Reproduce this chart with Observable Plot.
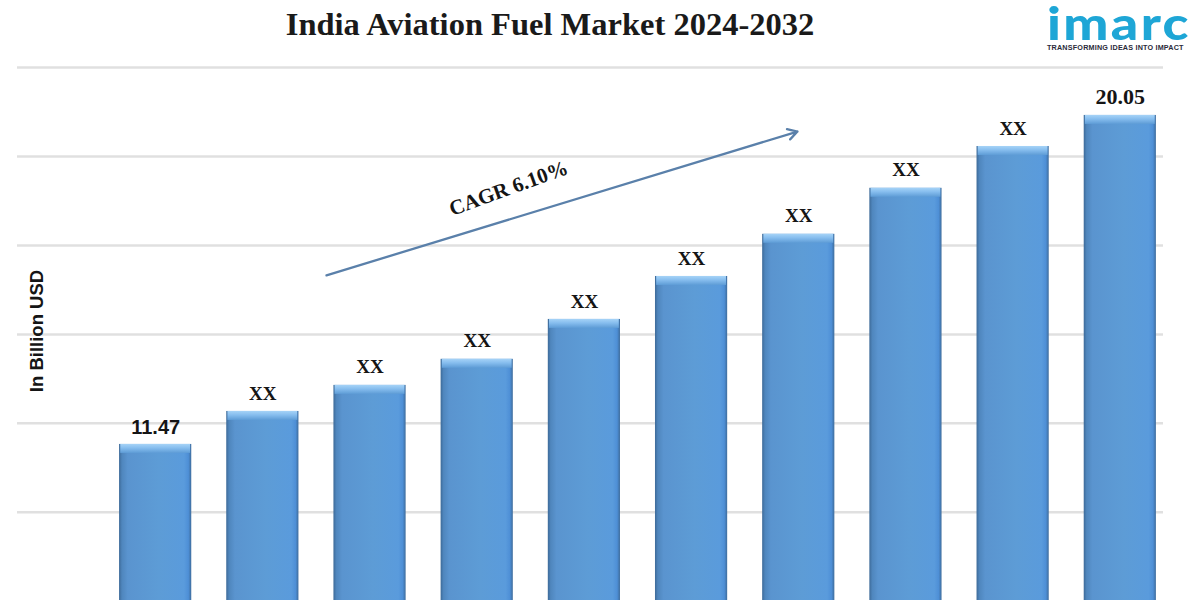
<!DOCTYPE html>
<html>
<head>
<meta charset="utf-8">
<script src="https://cdn.jsdelivr.net/npm/d3@7"></script>
<script src="https://cdn.jsdelivr.net/npm/@observablehq/plot@0.6"></script>
<style>
  html, body { margin: 0; padding: 0; background: #ffffff; }
  #wrap { position: relative; width: 1200px; height: 600px; overflow: hidden; background: #ffffff; }
  #title { position: absolute; left: 0; top: 8px; width: 1100px; text-align: center;
           font-family: "Liberation Serif", serif; font-weight: bold; font-size: 32.5px; color: #1a1a1a; line-height: 1; }
  #brand { position: absolute; left: 1047px; top: 3px; white-space: nowrap;
           font-family: "Lato", sans-serif; font-weight: 900; font-size: 45px; letter-spacing: 2px; color: #1ea6d6; line-height: 0.9;
           transform: scaleX(1.19); transform-origin: 0 0; }
  #tag { position: absolute; left: 1047px; top: 44px; white-space: nowrap;
         font-family: "Liberation Sans", sans-serif; font-weight: bold; font-size: 7.2px; color: #2b2b3a; letter-spacing: 0.2px; line-height: 1; }
  #chart { position: absolute; left: 0; top: 0; }
</style>
</head>
<body>
<div id="wrap">
  <div id="chart"></div>
  <div id="title">India Aviation Fuel Market 2024-2032</div>
  <div id="brand">imarc</div>
  <div id="tag">TRANSFORMING IDEAS INTO IMPACT</div>
</div>
<script>
// ---- data ----
const years  = [2023, 2024, 2025, 2026, 2027, 2028, 2029, 2030, 2031, 2032];
const values = [11.47, 12.33, 13.01, 13.69, 14.73, 15.85, 16.95, 18.15, 19.24, 20.05];
const labels = ["11.47", "XX", "XX", "XX", "XX", "XX", "XX", "XX", "XX", "20.05"];
const gridValues = [9.70, 12.02, 14.34, 16.66, 18.98, 21.30];
const yDomain = [7.40, 21.30];
const xDomain = [2021.711, 2032.403];
const cagrText = "CAGR 6.10%";
const cagrArrow = [{x1: 2024.594, y1: 15.88, x2: 2028.988, y2: 19.63}];
const cagrLabelPos = [{x: 2026.292, y: 18.15}];
const yTitle = "In Billion USD";

const data = years.map((year, i) => ({year, value: values[i], label: labels[i]}));

const chart = Plot.plot({
  width: 1200,
  height: 600,
  marginTop: 67,
  marginBottom: 0,
  marginLeft: 17,
  marginRight: 37,
  x: {type: "linear", domain: xDomain, axis: null},
  y: {type: "linear", domain: yDomain, axis: null},
  marks: [
    Plot.ruleY(gridValues, {stroke: "#e0e0e0", strokeWidth: 2.5}),
    Plot.rectY(data, {
      x1: d => d.year - 0.5, x2: d => d.year + 0.5,
      y1: yDomain[0], y2: "value",
      insetLeft: 17.5, insetRight: 17.5,
      fill: "url(#barGrad)"
    }),
    Plot.rectY(data, {
      x1: d => d.year - 0.5, x2: d => d.year + 0.5,
      y1: "value", y2: "value",
      insetLeft: 18.7, insetRight: 18.7, insetBottom: -9,
      fill: "url(#topGrad)"
    }),
    Plot.text(data.filter((d, i) => i === 0), {
      x: "year", y: "value", text: "label", dy: -17,
      fontFamily: "Liberation Sans, sans-serif", fontWeight: "bold", fontSize: 20,
      fill: "#151515", letterSpacing: 1
    }),
    Plot.text(data.filter((d, i) => i > 0), {
      x: "year", y: "value", text: "label", dy: -18,
      fontFamily: "Liberation Serif, serif", fontWeight: "bold", fontSize: d => d.label === "XX" ? 19 : 22,
      fill: "#151515", letterSpacing: d => d.label === "XX" ? 1.2 : 2
    }),
    Plot.arrow(cagrArrow, {
      x1: "x1", y1: "y1", x2: "x2", y2: "y2",
      stroke: "#5a80aa", strokeWidth: 2.3, headLength: 7, bend: 0
    }),
    Plot.text(cagrLabelPos, {
      x: "x", y: "y", text: [cagrText], rotate: -20,
      fontFamily: "Liberation Serif, serif", fontWeight: "bold", fontSize: 21,
      fill: "#151515", letterSpacing: 1
    }),
    Plot.text([yTitle], {
      frameAnchor: "left", textAnchor: "middle", rotate: -90, dx: 20, dy: -3,
      fontFamily: "Liberation Sans, sans-serif", fontWeight: "bold", fontSize: 18.5,
      fill: "#151515"
    })
  ]
});

// gradients for the bevelled bars
const ns = "http://www.w3.org/2000/svg";
const defs = document.createElementNS(ns, "defs");
defs.innerHTML = `
  <linearGradient id="barGrad" x1="0" y1="0" x2="1" y2="0">
    <stop offset="0" stop-color="#3d6a98"/>
    <stop offset="0.04" stop-color="#4f86bd"/>
    <stop offset="0.12" stop-color="#5a94cf"/>
    <stop offset="0.55" stop-color="#5d9cd6"/>
    <stop offset="0.9" stop-color="#5a9bdc"/>
    <stop offset="0.96" stop-color="#4e8fd6"/>
    <stop offset="1" stop-color="#3e6c9c"/>
  </linearGradient>
  <linearGradient id="topGrad" x1="0" y1="0" x2="0" y2="1">
    <stop offset="0" stop-color="#a6d3f7"/>
    <stop offset="0.45" stop-color="#86bdee"/>
    <stop offset="1" stop-color="#5e9cd6"/>
  </linearGradient>`;
chart.insertBefore(defs, chart.firstChild);

document.getElementById("chart").appendChild(chart);
</script>
</body>
</html>
